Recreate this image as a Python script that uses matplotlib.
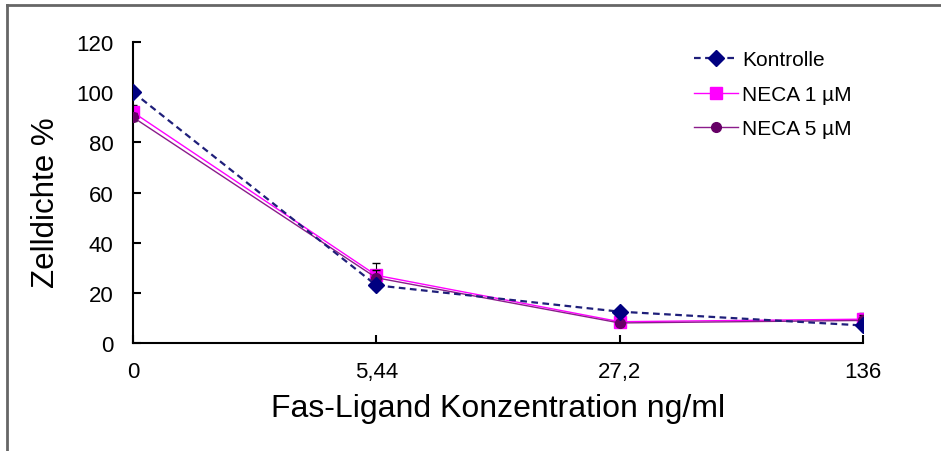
import numpy as np
import matplotlib.pyplot as plt
from matplotlib.lines import Line2D

plt.rcParams['font.family'] = ['Liberation Sans', 'DejaVu Sans']

# data
categories = ['0', '5,44', '27,2', '136']
kontrolle = [100, 23, 12.5, 7]
neca1 = [92, 27, 8.5, 9.5]
neca5 = [90, 26, 8, 9]
kontrolle_err = [0, 1.5, 1, 1]
neca1_err = [3, 5, 1, 2.5]
neca5_err = [1.5, 3, 1, 2]

x = np.arange(len(categories))

fig = plt.figure(figsize=(9.41, 4.52), dpi=100)
ax = fig.add_axes([0.1413, 0.2389, 0.7757, 0.6660])

# outer frame (only top and left visible)
fig.add_artist(Line2D([0.0075, 0.0075], [0, 0.986], color='#666666', lw=2))
fig.add_artist(Line2D([0.0075, 1], [0.986, 0.986], color='#666666', lw=2))

styles = {
    'Kontrolle': dict(color='#1F1F7A', lw=1.6, ls=(0, (3, 2)), marker='D', ms=8,
                      mfc='#000080', mec='#000080'),
    'NECA 1 µM': dict(color='#FF00FF', lw=1, ls='-', marker='s', ms=8,
                      mfc='#FF00FF', mec='#FF00FF'),
    'NECA 5 µM': dict(color='#8B1C8B', lw=1, ls='-', marker='o', ms=7,
                      mfc='#660066', mec='#660066'),
}

ax.errorbar(x, neca5, yerr=neca5_err, capsize=3, ecolor='black', elinewidth=0.8,
            zorder=3, **styles['NECA 5 µM'])
ax.errorbar(x, neca1, yerr=neca1_err, capsize=3, ecolor='black', elinewidth=0.8,
            zorder=2, **styles['NECA 1 µM'])
ax.errorbar(x, kontrolle, yerr=kontrolle_err, capsize=3, ecolor='black', elinewidth=0.8,
            zorder=4, **styles['Kontrolle'])

ax.set_xlim(0, len(categories) - 1)
ax.set_ylim(0, 120)
ax.set_xticks(x)
ax.set_xticklabels(categories)
ax.set_yticks(np.arange(0, 121, 20))
ax.tick_params(axis='both', direction='in', labelsize=16, length=6, width=1.5)
ax.tick_params(axis='x', pad=13)
ax.tick_params(axis='y', pad=14)
for s in ['top', 'right']:
    ax.spines[s].set_visible(False)
for s in ['left', 'bottom']:
    ax.spines[s].set_linewidth(1.5)

ax.set_ylabel('Zelldichte %', fontsize=22.5)
ax.yaxis.set_label_coords(-0.098, 0.47)
ax.set_xlabel('Fas-Ligand Konzentration ng/ml', fontsize=23, labelpad=8)

handles = [Line2D([], [], **styles[k]) for k in styles]
ax.legend(handles, list(styles), frameon=False, fontsize=15, loc='upper right',
          bbox_to_anchor=(1.01, 1.035), handlelength=2.1, handletextpad=0.2,
          labelspacing=0.75)

fig.savefig('out.png', dpi=100)
